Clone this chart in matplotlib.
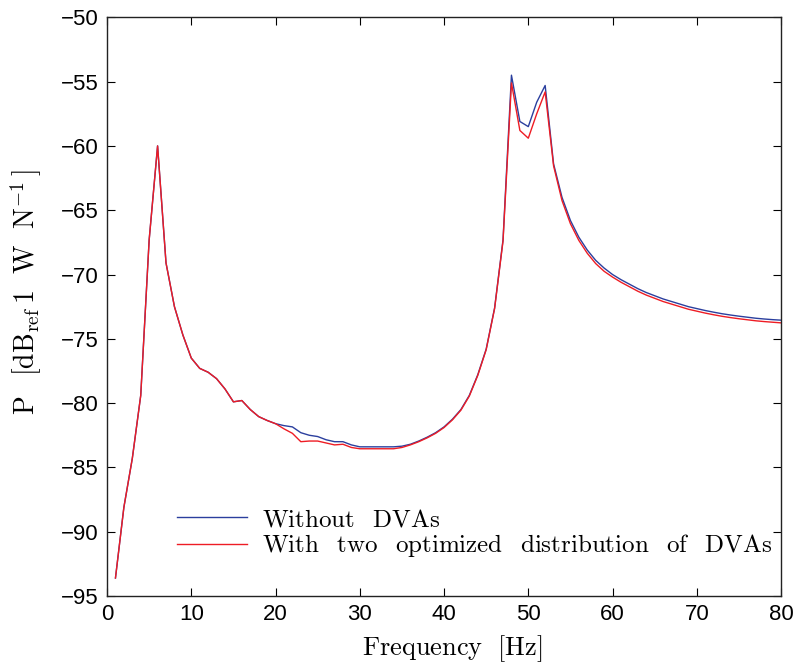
import matplotlib
matplotlib.use("Agg")
import matplotlib.pyplot as plt

freq = list(range(1, 81))

without_dva = [
    -93.6, -88.1, -84.3, -79.4, -67.3, -60.0, -69.1, -72.5, -74.7, -76.5,
    -77.3, -77.6, -78.1, -78.9, -79.9, -79.8, -80.5, -81.05, -81.35, -81.6,
    -81.75, -81.85, -82.3, -82.5, -82.6, -82.85, -83.0, -83.0, -83.25, -83.4,
    -83.4, -83.4, -83.4, -83.4, -83.35, -83.2, -82.95, -82.65, -82.3, -81.85,
    -81.25, -80.5, -79.4, -77.8, -75.8, -72.6, -67.3, -54.5, -58.1, -58.5,
    -56.6, -55.3, -61.4, -64.0, -65.8, -67.1, -68.1, -68.9, -69.5, -70.0,
    -70.4, -70.75, -71.1, -71.4, -71.65, -71.9, -72.1, -72.3, -72.5, -72.65,
    -72.8, -72.93, -73.05, -73.15, -73.24, -73.32, -73.4, -73.46, -73.51, -73.55,
]

with_two_dva = [
    -93.6, -88.1, -84.3, -79.4, -67.3, -60.0, -69.1, -72.5, -74.7, -76.5,
    -77.3, -77.6, -78.1, -78.9, -79.9, -79.8, -80.5, -81.05, -81.35, -81.6,
    -82.0, -82.35, -83.0, -82.95, -82.95, -83.1, -83.25, -83.2, -83.45, -83.55,
    -83.55, -83.55, -83.55, -83.55, -83.45, -83.25, -83.0, -82.7, -82.35, -81.9,
    -81.3, -80.55, -79.45, -77.85, -75.85, -72.65, -67.4, -55.1, -58.8, -59.4,
    -57.5, -55.8, -61.55, -64.25, -66.05, -67.35, -68.35, -69.15, -69.75, -70.2,
    -70.6, -70.95, -71.3, -71.6, -71.85, -72.1, -72.3, -72.5, -72.7, -72.85,
    -73.0, -73.13, -73.25, -73.35, -73.44, -73.52, -73.6, -73.66, -73.71, -73.76,
]

x_ticks = [0, 10, 20, 30, 40, 50, 60, 70, 80]
y_ticks = [-95, -90, -85, -80, -75, -70, -65, -60, -55, -50]

plt.rcParams['mathtext.fontset'] = 'cm'
plt.rcParams['font.family'] = ['Liberation Sans', 'DejaVu Sans']

fig = plt.figure(figsize=(7.97, 6.66), dpi=100)
ax = fig.add_axes([0.1343, 0.1051, 0.8457, 0.8689])

ax.plot(freq, without_dva, color='#2b3f9e', lw=1.0,
        label=r'$\mathrm{Without\ \ \,DVAs}$')
ax.plot(freq, with_two_dva, color='#ee1c24', lw=1.0,
        label=r'$\mathrm{With\ \ \,two\ \ \,optimized\ \ \,distribution\ \ \,of\ \ \,DVAs}$')

ax.set_xlim(0, 80)
ax.set_ylim(-95, -50)
ax.set_xticks(x_ticks)
ax.set_yticks(y_ticks)
ax.set_xticklabels([str(v) for v in x_ticks])
ax.set_yticklabels([str(v).replace('-', '\u2212') for v in y_ticks])
ax.tick_params(direction='in', length=6, width=0.8, top=True, right=True,
               labelsize=16, pad=6)
for s in ax.spines.values():
    s.set_linewidth(1.0)
    s.set_color('#222222')

ax.set_xlabel(r'$\mathrm{Frequency\ \ [Hz]}$', fontsize=19)
ax.xaxis.set_label_coords(0.512, -0.064)
ax.set_ylabel(r'$\mathrm{P\ \ \,[dB_{ref}\,1\ \ W\ \ N^{-1}\,]}$', fontsize=20)
ax.yaxis.set_label_coords(-0.093, 0.525)

leg = ax.legend(loc='lower left', bbox_to_anchor=(0.089, 0.046), frameon=False,
                fontsize=18, handlelength=2.8, handletextpad=0.6,
                labelspacing=0.05, borderaxespad=0)

fig.savefig('out.png', dpi=100)
